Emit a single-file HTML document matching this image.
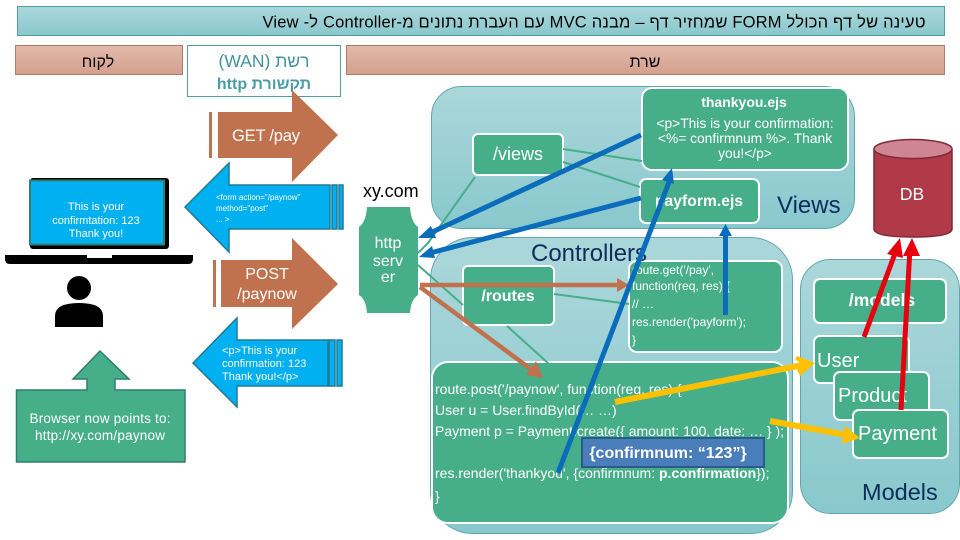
<!DOCTYPE html>
<html><head><meta charset="utf-8"><style>
html,body{margin:0;padding:0;background:#fff}
svg{display:block}
text{font-family:"Liberation Sans","Noto Sans CJK JP",sans-serif}
.w{fill:#fff}
.n{fill:#0f2d5c}
</style></head><body>
<svg width="960" height="540" viewBox="0 0 960 540" xmlns="http://www.w3.org/2000/svg">
<defs>
<linearGradient id="t" x1="0" y1="0" x2="0" y2="1"><stop offset="0" stop-color="#abd7da"/><stop offset="1" stop-color="#88c8cd"/></linearGradient>
<linearGradient id="p" x1="0" y1="0" x2="0" y2="1"><stop offset="0" stop-color="#e2b9ab"/><stop offset="1" stop-color="#d3a08d"/></linearGradient>
</defs>
<rect x="17.500" y="6.500" width="927" height="29" fill="url(#t)" stroke="#4f9fa6"/>
<text x="594" y="27.500" font-size="16.500" text-anchor="middle" direction="rtl" textLength="663" lengthAdjust="spacing">טעינה של דף הכולל FORM שמחזיר דף – מבנה MVC עם העברת נתונים מ-Controller ל- View</text>
<rect x="15.500" y="45.500" width="167" height="29" fill="url(#p)" stroke="#b07a68"/>
<text x="98" y="67" font-size="16" text-anchor="middle" direction="rtl">לקוח</text>
<rect x="346.500" y="45.500" width="598" height="29" fill="url(#p)" stroke="#b07a68"/>
<text x="645" y="67" font-size="16" text-anchor="middle" direction="rtl">שרת</text>
<rect x="187.500" y="45.500" width="153" height="51" fill="#fff" stroke="#4f9fa6"/>
<text x="264" y="67" font-size="17.500" fill="#3f949c" text-anchor="middle" direction="rtl">רשת (WAN)</text>
<text x="264" y="89" font-size="16" font-weight="bold" fill="#4a9da5" text-anchor="middle" direction="rtl">תקשורת http</text>

<!-- panels -->
<rect x="431.500" y="86.500" width="423" height="142" rx="30" fill="url(#t)" stroke="#5fa8ad"/>
<rect x="430.500" y="237.500" width="362" height="296" rx="42" fill="url(#t)" stroke="#5fa8ad"/>
<rect x="800.500" y="259.500" width="159" height="254" rx="30" fill="url(#t)" stroke="#5fa8ad"/>

<!-- left arrows -->
<g fill="#c0714d">
<rect x="209" y="112" width="3" height="46"/>
<path d="M218 112H292V90L338 135L292 182V158H218Z"/>
<rect x="213" y="260" width="3" height="47"/>
<path d="M221 260H292V238L338 284L292 329V307H221Z"/>
</g>
<g fill="#00b0f0" stroke="#1f7a94" stroke-width="1.500">
<path d="M185 207L229 163V185H330V229H229V252Z"/>
<rect x="332" y="185" width="5" height="44"/>
<rect x="339" y="185" width="4" height="44"/>
<path d="M193 363L237 318V340H328V386H237V407Z"/>
<rect x="329" y="340" width="6" height="46"/>
<rect x="337" y="340" width="5" height="46"/>
</g>
<text x="232" y="141" font-size="16.500" class="w" textLength="68">GET /pay</text>
<text x="267" y="279" font-size="16" class="w" text-anchor="middle">POST</text>
<text x="267" y="299" font-size="16" class="w" text-anchor="middle">/paynow</text>
<g font-size="8" class="w">
<text x="216" y="200">&lt;form action="/paynow"</text>
<text x="216" y="211">method="post"</text>
<text x="216" y="222">... &gt;</text>
</g>
<g font-size="11" class="w">
<text x="222" y="354">&lt;p&gt;This is your</text>
<text x="222" y="367">confirmation: 123</text>
<text x="222" y="380">Thank you!&lt;/p&gt;</text>
</g>

<!-- laptop -->
<rect x="30" y="178" width="139" height="71" rx="3" fill="#000"/>
<rect x="30" y="180.500" width="134" height="64" fill="#00b0f0" stroke="#2f7f77" stroke-width="2"/>
<path d="M5 255H193V259Q193 264 188 264H10Q5 264 5 259Z" fill="#000"/>
<rect x="87" y="255" width="25" height="3" fill="#fff"/>
<g font-size="11" class="w" text-anchor="middle">
<text x="96" y="210">This is your</text>
<text x="96" y="224">confirmtation: 123</text>
<text x="96" y="237">Thank you!</text>
</g>
<!-- person -->
<circle cx="79" cy="288" r="12" fill="#000"/>
<path d="M55 327V316Q55 303 79 303Q103 303 103 316V327Z" fill="#000"/>
<!-- browser callout -->
<path d="M16.500 390H87V379H73L100 351L129 379H115V390H185V462H16.500Z" fill="#46ae88" stroke="#2f7f6a" stroke-width="1.500"/>
<text x="100" y="423" font-size="13.500" class="w" text-anchor="middle" textLength="141">Browser now points to:</text>
<text x="100" y="440" font-size="13.500" class="w" text-anchor="middle" textLength="130">http://xy.com/paynow</text>

<!-- http server -->
<text x="363" y="197" font-size="18">xy.com</text>
<path d="M367 207H410Q411 222 418 227V295Q411 299 410 313H367Q366 299 359 295V227Q366 222 367 207Z" fill="#46ae88"/>
<g font-size="16" class="w" text-anchor="middle">
<text x="388" y="248">http</text>
<text x="388" y="266">serv</text>
<text x="388" y="282">er</text>
</g>

<!-- green boxes -->
<g fill="#46ae88" stroke="#fff" stroke-width="2">
<rect x="642" y="88" width="206" height="82" rx="10"/>
<rect x="640" y="179" width="119" height="44" rx="6"/>
<rect x="473" y="134" width="90" height="41" rx="5"/>
<rect x="463" y="266" width="91" height="59" rx="5"/>
<rect x="629" y="261" width="153" height="91" rx="8"/>
<rect x="432" y="362" width="356" height="161" rx="16"/>
<rect x="814" y="279" width="132" height="44" rx="6"/>
<rect x="814" y="336" width="95" height="47" rx="6"/>
<rect x="834" y="372" width="95" height="48" rx="6"/>
<rect x="853" y="410" width="95" height="48" rx="6"/>
</g>

<!-- thin green connectors -->
<g stroke="#46ae88" stroke-width="2" fill="none">
<path d="M563 149L642 161"/>
<path d="M563 162L640 187"/>
<path d="M475 177L428 243L418 253"/>
<path d="M418 265L463 305"/>
<path d="M554 294L629 304"/>
<path d="M507 326L549 364"/>
</g>

<text x="744" y="107" font-size="14" font-weight="bold" class="w" text-anchor="middle">thankyou.ejs</text>
<g font-size="13.800" class="w" text-anchor="middle">
<text x="745" y="128">&lt;p&gt;This is your confirmation:</text>
<text x="745" y="143">&lt;%= confirmnum %&gt;. Thank</text>
<text x="745" y="158">you!&lt;/p&gt;</text>
</g>
<text x="699" y="206" font-size="15.500" font-weight="bold" class="w" text-anchor="middle" textLength="88">payform.ejs</text>
<text x="518" y="160" font-size="18" class="w" text-anchor="middle">/views</text>
<text x="777" y="213" font-size="24" class="n">Views</text>
<text x="531" y="261" font-size="24" class="n">Controllers</text>
<text x="508" y="301" font-size="16" font-weight="bold" class="w" text-anchor="middle">/routes</text>
<g font-size="12" class="w">
<text x="632" y="274">route.get('/pay',</text>
<text x="632" y="290">function(req, res) {</text>
<text x="632" y="308">// …</text>
<text x="632" y="326">res.render('payform');</text>
<text x="632" y="344">}</text>
</g>
<g font-size="14" class="w">
<text x="435" y="394">route.post('/paynow', function(req, res) {</text>
<text x="435" y="415">User u = User.findById(… …)</text>
<text x="435" y="436" textLength="349">Payment p = Payment.create({ amount: 100, date: … } );</text>
<text x="435" y="478">res.render('thankyou', {confirmnum: <tspan font-weight="bold">p.confirmation</tspan>});</text>
<text x="435" y="501">}</text>
</g>
<rect x="582" y="438" width="182" height="29" fill="#4a7ebb" stroke="#2c5a8a" stroke-width="2"/>
<text x="668" y="458" font-size="16" font-weight="bold" class="w" text-anchor="middle">{confirmnum: “123”}</text>

<text x="882" y="306" font-size="17.500" font-weight="bold" class="w" text-anchor="middle">/models</text>
<text x="817" y="367" font-size="20" class="w">User</text>
<text x="838" y="402" font-size="20" class="w">Product</text>
<text x="858" y="440" font-size="20" class="w">Payment</text>
<text x="862" y="500" font-size="23.500" class="n">Models</text>

<!-- DB -->
<path d="M874 150V229Q874 237 913 237Q952 237 952 229V150Z" fill="#b03a48" stroke="#7d2a35" stroke-width="1.500"/>
<ellipse cx="913" cy="149" rx="39" ry="9.500" fill="#d08594" stroke="#7d2a35" stroke-width="1.500"/>
<text x="912" y="200" font-size="17.500" class="w" text-anchor="middle">DB</text>

<!-- brown -->
<g stroke="#c0714d" stroke-width="4.500" fill="none">
<path d="M420 285H620"/>
<path d="M420 287L532 370"/>
</g>
<path d="M629 285L617 278V292Z" fill="#c0714d"/>
<path d="M543 378L526 375L536 361Z" fill="#c0714d"/>

<!-- blue -->
<g stroke="#0a6cbb" stroke-width="5" fill="none">
<path d="M641 135L428 234"/>
<path d="M641 198L430 253"/>
<path d="M558 473L669 182"/>
<path d="M725.500 315V234"/>
</g>
<g fill="#0a6cbb">
<path d="M418 238L431 226L436 238Z"/>
<path d="M419 257L432 246L435 258Z"/>
<path d="M672 168L674 184L662 180Z"/>
<path d="M725.500 224L732 236H719Z"/>
</g>

<!-- yellow -->
<g stroke="#ffc000" stroke-width="6" fill="none">
<path d="M615 402L808 364"/>
<path d="M770 421L852 436"/>
</g>
<g fill="#ffc000">
<path d="M815 363L800 376L797 370L803 365L795 359L797 356Z"/>
<path d="M860 438L842 444L845 426Z"/>
</g>

<!-- red -->
<g stroke="#e8000f" stroke-width="5" fill="none">
<path d="M864 337L897 248"/>
<path d="M901 410L910 248"/>
</g>
<g fill="#e8000f">
<path d="M900 238L887 254L903 258Z"/>
<path d="M912 238L903 256L920 256Z"/>
</g>
</svg>
</body></html>
